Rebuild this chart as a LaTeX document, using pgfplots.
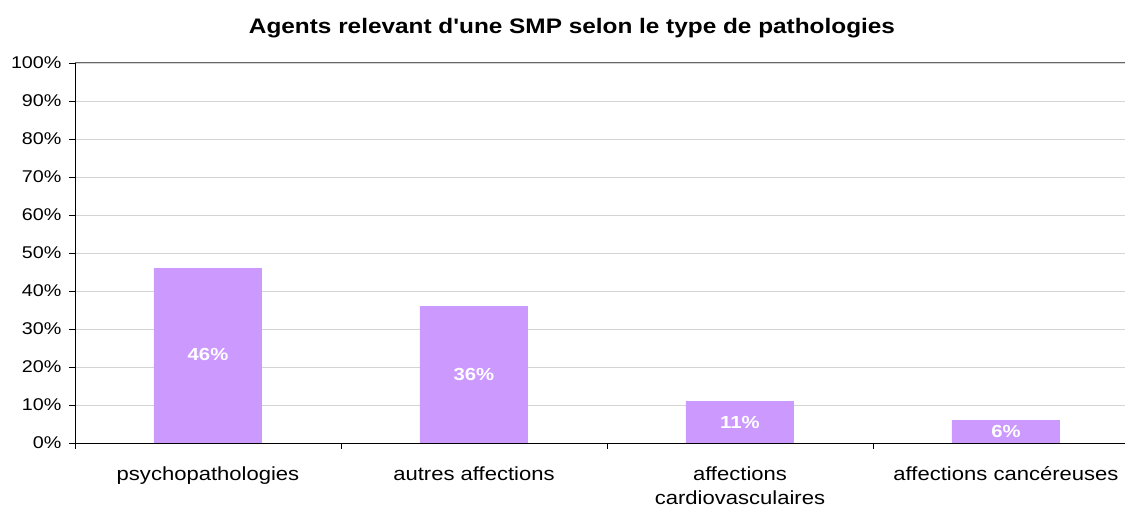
\documentclass[border=0pt]{standalone}
\usepackage{pgfplots}
\pgfplotsset{compat=1.18}
\usepackage{fontspec}
\defaultfontfeatures{}
\setmainfont{Liberation Sans}[FakeStretch=1.16]
\newfontfamily\titlefont{Liberation Sans}[FakeStretch=1.16]
\definecolor{barc}{HTML}{CC99FF}
\definecolor{gridc}{HTML}{D4D4D4}
\begin{document}
\begin{tikzpicture}
\useasboundingbox (-75pt,-67pt) rectangle (1050pt,443pt);
\begin{axis}[
  at={(0,0)}, anchor=south west,
  scale only axis, width=1064pt, height=380pt,
  xmin=0, xmax=4, ymin=0, ymax=100,
  axis x line*=bottom, axis y line*=left,
  axis line style={black, line width=0.8pt, -},
  xtick={0,1,2,3,4}, xticklabels={},
  extra x ticks={0.5,1.5,2.5,3.5},
  extra x tick labels={psychopathologies, autres affections, affections\\cardiovasculaires, affections cancéreuses},
  extra x tick style={major tick length=0pt, grid=none,
    tick label style={align=center, font=\fontsize{19}{24}\selectfont, yshift=-20pt}},
  ytick={0,10,...,100},
  yticklabel={\pgfmathprintnumber{\tick}\%},
  yticklabel style={font=\fontsize{17}{20}\selectfont, xshift=-4pt},
  tick align=outside, major tick length=6pt,
  tick style={black, line width=0.8pt},
  ymajorgrids, grid style={gridc, line width=0.8pt},
  /pgf/number format/assume math mode=true,
  title={Agents relevant d'une SMP selon le type de pathologies},
  title style={font=\titlefont\fontsize{21}{24}\selectfont\bfseries, yshift=16pt, xshift=-35pt},
  clip=false,
]
\draw[gray!80!black, line width=1pt] (axis cs:0,100) -- (axis cs:4,100);
\addplot[ybar, bar width=108pt, fill=barc, draw=none] coordinates {(0.5,46) (1.5,36) (2.5,11) (3.5,6)};
\addplot[only marks, mark=none, point meta=explicit symbolic,
  nodes near coords, every node near coord/.style={anchor=center, text=white, font=\fontsize{17.5}{20}\selectfont\bfseries}]
  coordinates {(0.5,23.2) [46\%] (1.5,18) [36\%] (2.5,5.5) [11\%] (3.5,3) [6\%]};
\end{axis}
\end{tikzpicture}
\end{document}
